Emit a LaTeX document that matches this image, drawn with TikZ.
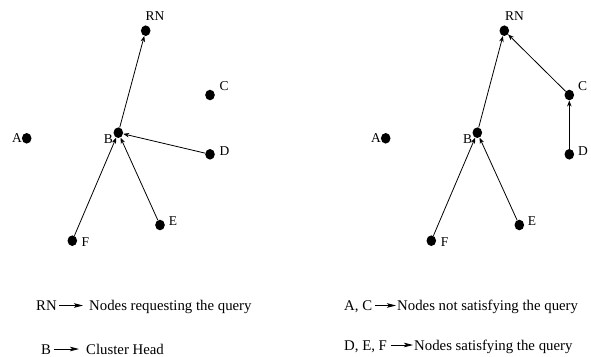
\documentclass[tikz,border=0pt]{standalone}
\usepackage{fontspec}
\setmainfont{Liberation Serif}
\usetikzlibrary{arrows.meta,shapes.geometric}
\begin{document}
\begin{tikzpicture}[x=1pt,y=-1pt,
  dot/.style={ellipse,fill=black,draw=none,minimum width=9.6pt,minimum height=10.6pt,inner sep=0pt},
  lbl/.style={inner sep=0pt,font=\fontsize{13.5}{15}\selectfont},
  legtext/.style={inner sep=0pt,anchor=base west,font=\fontsize{14.8}{17}\selectfont},
  link/.style={line width=0.8pt,-{Stealth[length=6pt,width=4.5pt]}},
  legarrow/.style={line width=0.8pt,-{Stealth[length=9pt,width=4.5pt,inset=2pt]}}]
\useasboundingbox (0,0) rectangle (591,356);
% left diagram
\node[dot] (lRN) at (145.7,30.7) {};
\node[dot] (lC) at (210,95) {};
\node[dot] (lA) at (26.7,138.3) {};
\node[dot] (lB) at (118.3,132.7) {};
\node[dot] (lD) at (210,154.3) {};
\node[dot] (lE) at (160,225) {};
\node[dot] (lF) at (72.3,240.7) {};
\node[lbl] (lRNl) at (155,16) {RN};
\node[lbl] (lCl) at (224,86) {C};
\node[lbl] (lAl) at (17,138.5) {A};
\node[lbl] (lBl) at (108.5,139.5) {B};
\node[lbl] (lDl) at (224.5,151) {D};
\node[lbl] (lEl) at (173,221.5) {E};
\node[lbl] (lFl) at (85.5,242) {F};
\draw[link] (lB) -- (lRN);
\draw[link] (lD) -- (lB);
\draw[link] (lE) -- (lB);
\draw[link] (lF) -- (lB);
% right diagram
\node[dot] (rRN) at (504.3,30.7) {};
\node[dot] (rC) at (569.3,95) {};
\node[dot] (rA) at (385.7,138.3) {};
\node[dot] (rB) at (477.3,132.7) {};
\node[dot] (rD) at (569.3,154.3) {};
\node[dot] (rE) at (519.3,225) {};
\node[dot] (rF) at (431.3,240.7) {};
\node[lbl] (rRNl) at (514.5,16) {RN};
\node[lbl] (rCl) at (582.5,86) {C};
\node[lbl] (rAl) at (376,138.5) {A};
\node[lbl] (rBl) at (467.5,139.5) {B};
\node[lbl] (rDl) at (583,151) {D};
\node[lbl] (rEl) at (532,221.5) {E};
\node[lbl] (rFl) at (444.5,242) {F};
\draw[link] (rB) -- (rRN);
\draw[link] (rC) -- (rRN);
\draw[link] (rD) -- (rC);
\draw[link] (rE) -- (rB);
\draw[link] (rF) -- (rB);
% legend
\node[legtext] (k1) at (36,310.5) {RN};
\coordinate (a1s) at (59,305.5);
\coordinate (a1e) at (83,305.5);
\node[legtext] (d1) at (89,310.5) {Nodes requesting the query};
\draw[legarrow] (a1s) -- (a1e);
\node[legtext] (k2) at (41,354) {B};
\coordinate (a2s) at (54,349);
\coordinate (a2e) at (79,349);
\node[legtext] (d2) at (86,354) {Cluster Head};
\draw[legarrow] (a2s) -- (a2e);
\node[legtext] (k3) at (344,310.5) {A, C};
\coordinate (a3s) at (375,305.5);
\coordinate (a3e) at (396,305.5);
\node[legtext] (d3) at (397,310.5) {Nodes not satisfying the query};
\draw[legarrow] (a3s) -- (a3e);
\node[legtext] (k4) at (344,350) {D, E, F};
\coordinate (a4s) at (391,345);
\coordinate (a4e) at (413,345);
\node[legtext] (d4) at (414,350) {Nodes satisfying the query};
\draw[legarrow] (a4s) -- (a4e);
\end{tikzpicture}
\end{document}
